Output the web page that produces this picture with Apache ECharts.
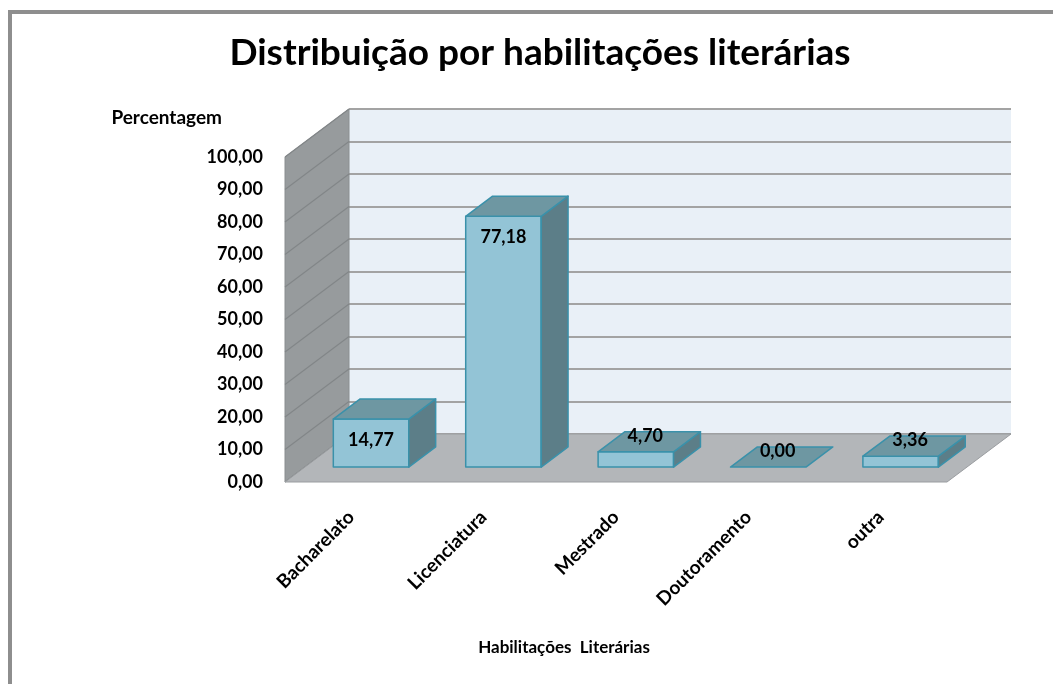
<!DOCTYPE html>
<html>
<head>
<meta charset="utf-8">
<script src="https://cdn.jsdelivr.net/npm/echarts@6/dist/echarts.min.js"></script>
<style>
html, body { margin: 0; padding: 0; background: #fff; }
#chart { width: 1053px; height: 684px; }
</style>
</head>
<body>
<div id="chart"></div>
<script>
// dados
var categories = ['Bacharelato', 'Licenciatura', 'Mestrado', 'Doutoramento', 'outra'];
var percentages = [14.77, 77.18, 4.70, 0.00, 3.36];
var yMin = 0;
var yMax = 100;
var yStep = 10;

// efeito 3D (px)
var DX = 64, DY = 48;      // profundidade do chão
var D0 = 0.31, D1 = 0.73;  // frente/trás das barras

function fmt(v) {
    return v.toFixed(2).replace('.', ',')
}
function P(x, y, d) {
    return [x + DX * d, y - DY * d]
}

var chart = echarts.init(document.getElementById('chart'))

var font = 'Lato'

function renderWalls(params, api) {
    var cs = params.coordSys
    var x = cs.x, y = cs.y, w = cs.width, h = cs.height
    var kids = []
    // parede esquerda
    kids.push({
        type: 'polygon',
        shape: { points: [[x, y + h], [x, y], [x + DX, y - DY], [x + DX, y + h - DY]] },
        style: { fill: '#979b9d', stroke: '#8a8e90', lineWidth: 1 }
    })
    for (var v = yMin; v <= yMax; v += yStep) {
        var yy = api.coord([categories[0], v])[1]
        kids.push({
            type: 'line',
            shape: { x1: x, y1: yy, x2: x + DX, y2: yy - DY },
            style: { stroke: '#828688', lineWidth: 1.2 }
        })
    }
    // chão
    kids.push({
        type: 'polygon',
        shape: { points: [[x, y + h], [x + w, y + h], [x + w + DX, y + h - DY], [x + DX, y + h - DY]] },
        style: { fill: '#b3b6b9', stroke: '#9a9da0', lineWidth: 1 }
    })
    return { type: 'group', children: kids }
}

function renderBar(params, api) {
    var cat = api.value(0)
    var val = api.value(1)
    var base = api.coord([cat, 0])
    var top = api.coord([cat, val])
    var cx = base[0], y0 = base[1], y1 = top[1]
    var bw = api.size([1, 0])[0] * 0.57
    var xl = cx - bw / 2, xr = cx + bw / 2
    var stroke = { stroke: '#3a91aa', lineWidth: 1.5, lineJoin: 'round' }
    var kids = []
    if (y0 - y1 > 0.5) {
        kids.push({
            type: 'polygon',
            shape: { points: [P(xl, y1, D0), P(xr, y1, D0), P(xr, y0, D0), P(xl, y0, D0)] },
            style: Object.assign({ fill: '#93c4d6' }, stroke)
        })
        kids.push({
            type: 'polygon',
            shape: { points: [P(xr, y1, D0), P(xr, y1, D1), P(xr, y0, D1), P(xr, y0, D0)] },
            style: Object.assign({ fill: '#5c7e88' }, stroke)
        })
    }
    kids.push({
        type: 'polygon',
        shape: { points: [P(xl, y1, D0), P(xr, y1, D0), P(xr, y1, D1), P(xl, y1, D1)] },
        style: Object.assign({ fill: '#6e97a2' }, stroke)
    })
    var lp
    if (y0 - y1 >= 30) {
        lp = P(cx, y1 + 21, D0)
    } else {
        lp = P(cx, y1, (D0 + D1) / 2)
        lp = [lp[0] - 4, lp[1] - 6]
    }
    kids.push({
        type: 'text',
        x: lp[0], y: lp[1],
        style: {
            text: fmt(val),
            fill: '#000',
            font: 'bold 18px ' + font,
            align: 'center',
            verticalAlign: 'middle'
        }
    })
    return { type: 'group', children: kids }
}

var option = {
    backgroundColor: '#fff',
    animation: false,
    title: {
        text: 'Distribuição por habilitações literárias',
        left: 535,
        top: 30,
        textAlign: 'center',
        textStyle: { fontFamily: font, fontWeight: 'bold', fontSize: 37, color: '#000' }
    },
    graphic: [{
        type: 'rect',
        shape: { x: 10, y: 12, width: 1100, height: 720 },
        style: { fill: 'none', stroke: '#8e8e8e', lineWidth: 4 },
        silent: true
    }],
    grid: [
        { left: 285, right: 106, top: 157, bottom: 202 },
        { left: 349, right: 42, top: 109, bottom: 250, show: true, backgroundColor: '#e9f0f7', borderWidth: 0 }
    ],
    xAxis: [{
        type: 'category',
        gridIndex: 0,
        data: categories,
        axisLine: { show: false },
        axisTick: { show: false },
        axisLabel: {
            rotate: 45,
            margin: 32,
            interval: 0,
            color: '#000',
            fontFamily: font,
            fontWeight: 'bold',
            fontSize: 19
        },
        name: 'Habilitações  Literárias',
        nameLocation: 'middle',
        nameGap: 157,
        nameTextStyle: {
            color: '#000', fontFamily: font, fontWeight: 'bold', fontSize: 17,
            padding: [0, 104, 0, 0]
        }
    }, {
        type: 'value',
        gridIndex: 1,
        min: 0, max: 1,
        show: false
    }],
    yAxis: [{
        type: 'value',
        gridIndex: 0,
        min: yMin, max: yMax, interval: yStep,
        axisLine: { show: false },
        axisTick: { show: false },
        splitLine: { show: false },
        axisLabel: {
            margin: 22,
            color: '#000',
            fontFamily: font,
            fontWeight: 'bold',
            fontSize: 18,
            formatter: function (v) { return fmt(v) }
        },
        name: 'Percentagem',
        nameLocation: 'end',
        nameGap: 30,
        nameTextStyle: {
            color: '#000', fontFamily: font, fontWeight: 'bold', fontSize: 19,
            align: 'right',
            padding: [0, 63, 0, 0]
        }
    }, {
        type: 'value',
        gridIndex: 1,
        min: yMin, max: yMax, interval: yStep,
        axisLine: { show: false },
        axisTick: { show: false },
        axisLabel: { show: false },
        splitLine: { show: true, lineStyle: { color: '#a3a3a3', width: 2 } }
    }],
    series: [{
        type: 'custom',
        name: 'paredes',
        xAxisIndex: 0,
        yAxisIndex: 0,
        silent: true,
        z: 1,
        renderItem: renderWalls,
        data: [[categories[0], 0]]
    }, {
        type: 'custom',
        name: 'Percentagem',
        xAxisIndex: 0,
        yAxisIndex: 0,
        z: 3,
        renderItem: renderBar,
        encode: { x: 0, y: 1 },
        data: categories.map(function (c, i) { return [c, percentages[i]] })
    }]
}
chart.setOption(option)
</script>
</body>
</html>
